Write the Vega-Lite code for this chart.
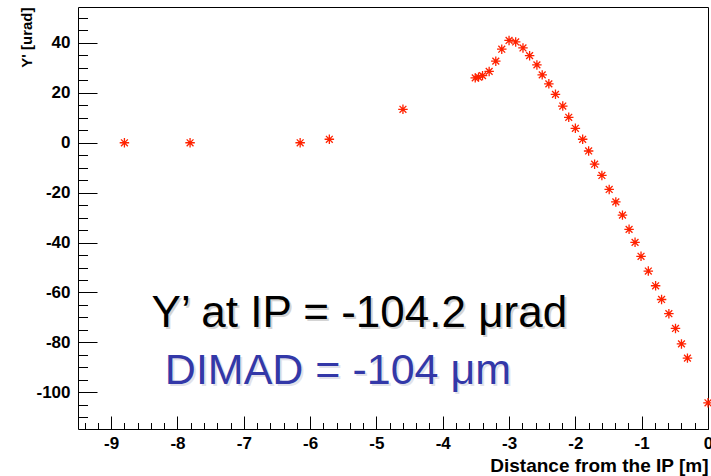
{
  "$schema": "https://vega.github.io/schema/vega-lite/v6.json",
  "width": 630,
  "height": 422,
  "autosize": {"type": "none"},
  "padding": {"left": 78, "top": 7, "right": 3, "bottom": 47},
  "background": "white",
  "config": {
    "view": {"stroke": "black", "strokeWidth": 1},
    "axis": {
      "grid": false,
      "domain": false,
      "labelFont": "Liberation Sans",
      "labelFontWeight": "bold",
      "labelColor": "black",
      "titleFont": "Liberation Sans",
      "titleFontWeight": "bold",
      "titleColor": "black",
      "tickColor": "black",
      "tickWidth": 1
    }
  },
  "datasets": {
    "pts": [
      {"x": -8.80, "y": 0},
      {"x": -7.81, "y": 0},
      {"x": -6.15, "y": 0},
      {"x": -5.71, "y": 1.4},
      {"x": -4.60, "y": 13.4},
      {"x": -3.51, "y": 26.0},
      {"x": -3.46, "y": 26.3},
      {"x": -3.40, "y": 26.9},
      {"x": -3.30, "y": 28.6},
      {"x": -3.20, "y": 32.7},
      {"x": -3.11, "y": 37.5},
      {"x": -3.00, "y": 41.0},
      {"x": -2.90, "y": 40.4},
      {"x": -2.79, "y": 38.0},
      {"x": -2.69, "y": 34.9},
      {"x": -2.58, "y": 31.2},
      {"x": -2.50, "y": 27.2},
      {"x": -2.40, "y": 23.6},
      {"x": -2.30, "y": 19.4},
      {"x": -2.19, "y": 14.7},
      {"x": -2.10, "y": 10.2},
      {"x": -2.00, "y": 5.8},
      {"x": -1.89, "y": 1.4},
      {"x": -1.80, "y": -3.3},
      {"x": -1.71, "y": -8.6},
      {"x": -1.60, "y": -13.1},
      {"x": -1.49, "y": -18.7},
      {"x": -1.39, "y": -23.7},
      {"x": -1.29, "y": -29.0},
      {"x": -1.19, "y": -34.7},
      {"x": -1.10, "y": -39.9},
      {"x": -1.01, "y": -45.5},
      {"x": -0.90, "y": -51.4},
      {"x": -0.79, "y": -57.3},
      {"x": -0.70, "y": -62.8},
      {"x": -0.59, "y": -68.5},
      {"x": -0.49, "y": -74.4},
      {"x": -0.40, "y": -80.6},
      {"x": -0.31, "y": -86.3},
      {"x": 0.0, "y": -104.2}
    ],
    "notes": [
      {"x": -8.39, "y": -73.9, "line": "a", "label": "Y’ at IP = -104.2 μrad"},
      {"x": -8.19, "y": -96.6, "line": "b", "label": "DIMAD = -104 μm"}
    ]
  },
  "layer": [
    {
      "data": {"name": "pts"},
      "mark": {"type": "point", "opacity": 0},
      "encoding": {
        "x": {"field": "x", "type": "quantitative",
          "scale": {"domain": [-9.5, 0], "nice": false, "zero": false},
          "axis": {"orient": "bottom", "values": [-9.4,-9.2,-8.8,-8.6,-8.4,-8.2,-7.8,-7.6,-7.4,-7.2,-6.8,-6.6,-6.4,-6.2,-5.8,-5.6,-5.4,-5.2,-4.8,-4.6,-4.4,-4.2,-3.8,-3.6,-3.4,-3.2,-2.8,-2.6,-2.4,-2.2,-1.8,-1.6,-1.4,-1.2,-0.8,-0.6,-0.4,-0.2], "labels": false, "title": null, "tickSize": -6.5}},
        "y": {"field": "y", "type": "quantitative",
          "scale": {"domain": [-114.7, 54.4], "nice": false, "zero": false},
          "axis": {"orient": "left", "values": [-110,-105,-95,-90,-85,-75,-70,-65,-55,-50,-45,-35,-30,-25,-15,-10,-5,5,10,15,25,30,35,45,50], "labels": false, "title": null, "tickSize": -9.5}}
      }
    },
    {
      "data": {"name": "pts"},
      "mark": {"type": "point", "opacity": 0},
      "encoding": {
        "x": {"field": "x", "type": "quantitative",
          "axis": {"orient": "bottom", "values": [-9,-8,-7,-6,-5,-4,-3,-2,-1,0], "labels": false, "title": null, "tickSize": -13}},
        "y": {"field": "y", "type": "quantitative",
          "axis": {"orient": "left", "values": [-100,-80,-60,-40,-20,0,20,40], "labels": false, "title": null, "tickSize": -19}}
      }
    },
    {
      "data": {"name": "pts"},
      "mark": {"type": "point",
        "shape": "M-1,0L1,0M0,-1L0,1M-0.72,-0.72L0.72,0.72M-0.72,0.72L0.72,-0.72",
        "filled": false, "stroke": "#ff2200", "strokeWidth": 1.3, "size": 90, "opacity": 1},
      "encoding": {
        "x": {"field": "x", "type": "quantitative",
          "axis": {"orient": "bottom", "values": [-9,-8,-7,-6,-5,-4,-3,-2,-1,0], "ticks": false,
            "labelExpr": "'' + datum.value",
            "labelFontSize": 17, "labelPadding": 6, "labelFlush": false,
            "title": "Distance from the IP [m]", "titleFontSize": 19, "titleAnchor": "end", "titlePadding": 5}},
        "y": {"field": "y", "type": "quantitative",
          "axis": {"orient": "left", "values": [-100,-80,-60,-40,-20,0,20,40], "ticks": false,
            "labelExpr": "'' + datum.value",
            "labelFontSize": 17, "labelPadding": 8,
            "title": "Y' [urad]", "titleFontSize": 15, "titleAnchor": "end", "titlePadding": 1}}
      }
    },
    {
      "data": {"name": "notes"},
      "transform": [{"filter": "datum.line === 'a'"}],
      "mark": {"type": "text", "align": "left", "baseline": "alphabetic", "font": "Liberation Sans", "fontSize": 44, "color": "#d4d4d4", "dx": 2, "dy": 2},
      "encoding": {
        "x": {"field": "x", "type": "quantitative", "axis": null},
        "y": {"field": "y", "type": "quantitative", "axis": null},
        "text": {"field": "label"}
      }
    },
    {
      "data": {"name": "notes"},
      "transform": [{"filter": "datum.line === 'a'"}],
      "mark": {"type": "text", "align": "left", "baseline": "alphabetic", "font": "Liberation Sans", "fontSize": 44, "color": "black"},
      "encoding": {
        "x": {"field": "x", "type": "quantitative", "axis": null},
        "y": {"field": "y", "type": "quantitative", "axis": null},
        "text": {"field": "label"}
      }
    },
    {
      "data": {"name": "notes"},
      "transform": [{"filter": "datum.line === 'b'"}],
      "mark": {"type": "text", "align": "left", "baseline": "alphabetic", "font": "Liberation Sans", "fontSize": 43, "color": "#e2e2ea", "dx": 2, "dy": 2},
      "encoding": {
        "x": {"field": "x", "type": "quantitative", "axis": null},
        "y": {"field": "y", "type": "quantitative", "axis": null},
        "text": {"field": "label"}
      }
    },
    {
      "data": {"name": "notes"},
      "transform": [{"filter": "datum.line === 'b'"}],
      "mark": {"type": "text", "align": "left", "baseline": "alphabetic", "font": "Liberation Sans", "fontSize": 43, "color": "#3338a8"},
      "encoding": {
        "x": {"field": "x", "type": "quantitative", "axis": null},
        "y": {"field": "y", "type": "quantitative", "axis": null},
        "text": {"field": "label"}
      }
    }
  ],
  "resolve": {"axis": {"x": "independent", "y": "independent"}}
}
